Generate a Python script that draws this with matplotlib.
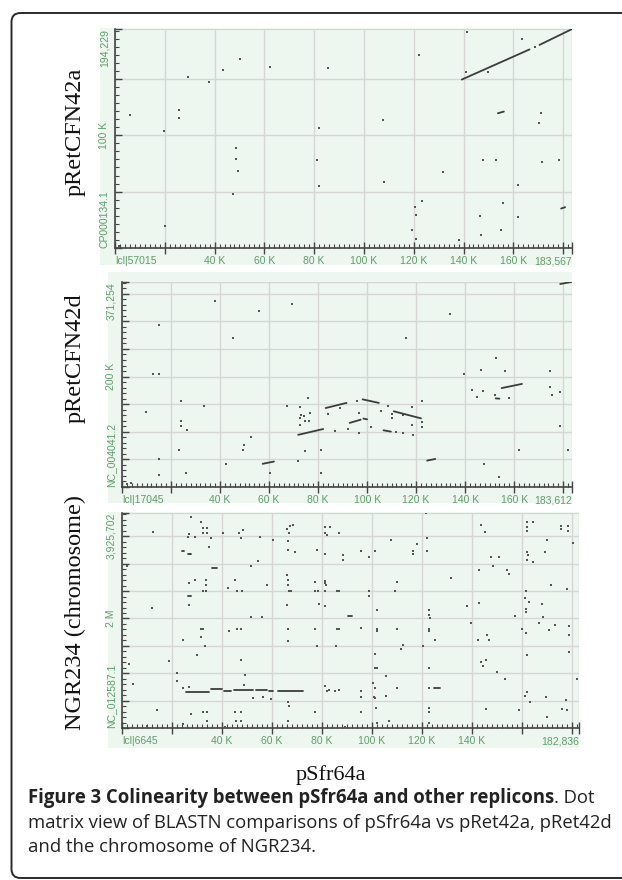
import matplotlib
matplotlib.use('Agg')
import numpy as np
import matplotlib.pyplot as plt
from matplotlib.patches import Rectangle, FancyBboxPatch
from matplotlib.ticker import MultipleLocator, AutoMinorLocator
from matplotlib.transforms import IdentityTransform

W, H = 622, 880

# ---- data (x in kb of pSfr64a, y in kb / Mb of the other replicon) ----
names = ['pRetCFN42a', 'pRetCFN42d', 'NGR234 (chromosome)']
x_len = [183.567, 183.612, 182.836]
y_len = [194.229, 371.254, 3.925702]
x_ids = ['lcl|57015', 'lcl|17045', 'lcl|6645']
y_ids = ['CP000134.1', 'NC_004041.2', 'NC_012587.1']
x_end_lbl = ['183,567', '183,612', '182,836']
y_end_lbl = ['194,229', '371,254', '3,925,702']
y_mid = [100, 200, 2]
y_mid_lbl = ['100 K', '200 K', '2 M']
y_grid = [50, 50, 0.5]
x_last_lbl = [160, 160, 140]

pts1 = [(6.2, 118), (19.7, 103.6), (20.0, 19.2), (25.6, 122.5), (25.6, 115.6), (29.2, 151.8),
        (37.9, 147.6), (43.5, 157.8), (47.5, 47.6), (48.7, 88.9), (48.7, 79.0), (49.4, 68.6),
        (50.2, 168), (62.2, 160.8), (81.1, 78.4), (81.9, 106.6), (82.0, 55.1), (85.6, 159.9),
        (107.5, 113.8), (108.1, 58.7), (122.0, 171), (119.2, 16.2), (120.5, 36.5), (120.8, 29.6),
        (121.0, 8.4), (123.3, 41.3), (131.6, 67.4), (138.3, 6.9), (140.8, 155.7), (141.4, 191.3),
        (146.7, 28.7), (147.1, 11.7), (147.8, 77.8), (149.8, 156), (153.0, 78.1), (155.1, 16.2),
        (155.7, 39.5), (162.0, 56), (162.0, 27.5), (163.3, 185.3), (170.2, 110.5), (171.3, 119.5),
        (171.6, 76.3), (178.4, 77.8), (1.5, 1.5), (168.9, 178.4)]
seg1 = [(139.3, 166.5, 149.4, 176.1), (170.5, 183.6, 180.1, 194.2),
        (153.8, 156.2, 119.5, 121.0), (179.2, 180.8, 35.0, 36.2)]

pts2 = [(15.1, 293.5), (12.7, 205.4), (15.1, 205.4), (9.9, 136.5), (24.2, 155.2), (24.2, 119.0),
        (24.2, 109.7), (26.6, 103.9), (33.6, 145.9), (37.8, 336.6), (45.1, 270.7), (52.6, 91.0),
        (49.7, 75.8), (49.2, 67.1), (42.4, 42.0), (23.4, 67.1), (26.0, 25.1), (15.0, 51.3),
        (15.3, 21.6), (55.9, 318.0), (69.4, 332.0), (60.2, 25.7), (67.3, 147.0), (71.9, 47.3),
        (72.7, 144.1), (73.2, 130.1), (74.3, 128.4), (72.7, 124.3), (74.5, 120.2), (76.8, 134.8),
        (76.5, 119.6), (72.7, 112.0), (75.7, 160.4), (74.7, 65.3), (81.4, 67.7), (81.1, 25.1),
        (84.2, 131.3), (87.0, 101.0), (89.1, 143.0), (92.1, 105.6), (95.7, 155.2), (96.9, 134.2),
        (101.5, 109.1), (105.6, 138.3), (108.6, 147.0), (110.2, 131.3), (110.2, 124.3),
        (114.6, 129.5), (116.0, 270.7), (118.4, 144.1), (118.4, 112.0), (122.5, 117.9),
        (122.5, 109.1), (122.5, 155.8), (134.0, 312.7), (139.6, 204.2), (142.9, 175.0),
        (144.7, 163.4), (146.5, 211.2), (147.2, 173.3), (147.9, 42.0), (152.5, 233.4),
        (152.1, 166.3), (153.8, 17.5), (156.4, 210.0), (157.9, 161.6), (161.8, 67.1),
        (174.7, 210.0), (174.7, 182.0), (175.5, 166.3), (178.8, 172.1), (178.8, 109.7),
        (182.1, 67.1), (2.1, 5.3), (3.6, 7.0), (96.7, 98.6), (112.0, 99.0), (114.5, 98.0),
        (118.8, 95.0)]
seg2 = [(178.8, 183.7, 367.6, 371.6), (71.9, 82.1, 94.5, 105.0), (83.1, 91.6, 143.0, 152.3),
        (98.2, 104.8, 158.7, 152.3), (92.9, 97.4, 116.1, 121.9), (110.9, 122.0, 137.1, 124.3),
        (106.7, 109.7, 102.7, 100.3), (57.4, 62.0, 42.0, 46.1), (124.5, 127.8, 47.8, 50.8),
        (154.9, 163.2, 179.1, 186.7), (152.5, 154.0, 160.5, 160.0), (98.5, 100.0, 124.0, 122.5)]

pts3 = [(27.5, 3.86), (31.5, 3.76), (32.6, 3.65), (33.9, 3.65), (26.7, 3.55), (26.4, 3.48),
        (29.1, 3.48), (32.6, 3.56), (33.9, 3.56), (35.5, 3.47), (12.3, 3.58), (40.3, 3.56),
        (46.7, 3.56), (48.3, 3.61), (47.5, 3.47), (55.2, 3.48), (60.3, 3.44), (65.9, 3.64),
        (66.7, 3.56), (68.3, 3.71), (67.2, 3.68), (81.1, 3.67), (81.1, 3.56), (81.9, 3.53),
        (83.2, 3.67), (87.0, 3.56), (107.8, 3.44), (121.6, 3.92), (143.5, 3.71), (145.1, 3.58),
        (161.9, 3.76), (164.3, 3.76), (161.9, 3.67), (161.9, 3.59), (175.5, 3.68), (178.4, 3.68),
        (175.5, 3.64), (178.4, 3.59), (169.9, 3.44),
        (27.2, 3.17), (35.0, 3.31), (51.5, 2.96), (54.4, 3.05), (66.4, 3.41), (66.4, 3.25),
        (69.4, 3.21), (77.9, 3.25), (81.1, 3.18), (88.6, 3.15), (88.3, 3.06), (95.5, 3.24),
        (98.7, 3.12), (101.4, 3.24), (116.3, 3.24), (116.3, 3.18), (117.9, 3.36), (122.2, 3.47),
        (122.2, 3.24), (147.5, 3.13), (150.7, 3.13), (148.3, 2.95), (161.9, 3.21), (162.4, 3.15),
        (161.9, 3.07), (164.3, 3.04), (169.1, 3.21), (180.3, 3.38), (1.9, 2.95),
        (26.7, 2.65), (29.1, 2.70), (33.6, 2.71), (33.6, 2.61), (33.6, 2.51), (32.3, 2.51),
        (26.7, 2.24), (42.4, 2.56), (45.4, 2.70), (45.9, 2.51), (48.0, 2.51), (58.2, 2.62),
        (66.2, 2.79), (66.4, 2.70), (66.4, 2.61), (66.7, 2.51), (67.8, 2.51), (77.1, 2.67),
        (77.1, 2.51), (78.4, 2.51), (81.1, 2.68), (81.3, 2.64), (81.6, 2.61), (81.3, 2.51),
        (85.9, 2.51), (87.0, 2.51), (79.0, 2.26), (81.1, 2.22), (98.7, 2.51), (98.7, 2.41),
        (109.9, 2.67), (109.1, 2.51), (131.5, 2.73), (143.0, 2.88), (154.2, 2.88), (154.7, 2.81),
        (161.6, 2.51), (161.1, 2.38), (162.7, 2.30), (142.7, 2.28), (138.2, 2.22), (171.5, 2.62),
        (178.2, 2.53), (168.0, 2.27), (161.6, 2.18), (161.6, 2.12), (168.6, 2.03), (157.1, 2.04),
        (12.0, 2.20), (66.2, 2.24),
        (51.5, 2.02), (56.0, 2.02), (101.9, 2.15), (122.7, 2.15), (122.7, 2.06), (123.2, 2.00),
        (160.0, 1.80), (161.6, 1.73), (167.0, 1.92), (170.7, 1.79), (173.1, 1.88), (178.7, 1.86),
        (178.7, 1.70), (31.8, 1.80), (32.6, 1.80), (31.5, 1.67), (33.3, 1.50), (24.3, 1.61),
        (29.9, 1.33), (45.9, 1.80), (47.5, 1.80), (42.7, 1.77), (66.4, 1.80), (66.4, 1.59),
        (77.1, 1.80), (77.9, 1.50), (85.9, 1.80), (87.0, 1.80), (85.6, 1.50), (95.5, 1.82),
        (101.9, 1.80), (102.2, 1.77), (109.9, 1.80), (122.7, 1.80), (122.7, 1.77), (125.4, 1.61),
        (120.6, 1.50), (111.5, 1.45), (112.3, 1.52), (139.5, 1.91), (142.4, 1.61), (146.2, 1.70),
        (147.0, 1.61), (161.9, 1.33), (178.7, 1.38),
        (18.7, 1.23), (47.5, 1.25), (49.1, 0.97), (22.2, 1.00), (22.2, 0.86), (2.7, 1.17),
        (4.5, 0.80), (101.4, 1.35), (101.1, 1.10), (101.9, 1.09), (105.6, 0.95), (100.3, 0.83),
        (122.7, 1.10), (122.7, 0.73), (143.5, 1.21), (144.6, 1.14), (145.6, 1.25), (149.9, 1.03),
        (153.1, 0.89), (161.9, 0.65), (161.1, 0.59), (163.2, 0.48), (181.9, 0.89), (169.6, 0.56),
        (177.6, 0.52), (81.1, 0.76), (81.9, 0.67), (82.7, 0.70), (85.1, 0.68), (87.0, 0.70),
        (101.4, 0.73), (100.8, 0.56), (101.4, 0.55), (105.6, 0.58), (109.9, 0.73), (95.5, 0.56),
        (95.5, 0.67), (66.4, 0.48), (67.0, 0.41), (52.3, 0.55), (56.6, 0.56), (59.5, 0.53),
        (48.8, 0.79), (24.3, 0.73), (26.7, 0.75),
        (13.9, 0.32), (27.5, 0.26), (32.3, 0.29), (33.9, 0.29), (45.4, 0.29), (47.5, 0.29),
        (45.6, 0.12), (47.8, 0.12), (33.9, 0.12), (24.3, 0.07), (9.9, 0.03), (41.1, 0.02),
        (66.4, 0.12), (77.1, 0.29), (89.1, 0.01), (95.5, 0.29), (101.6, 0.36), (101.9, 0.09),
        (106.7, 0.12), (122.7, 0.36), (123.0, 0.30), (122.7, 0.09), (145.6, 0.35), (158.7, 0.32),
        (169.9, 0.20), (176.0, 0.35), (178.2, 0.33)]
seg3 = [(25.5, 35.0, 0.665, 0.665), (35.5, 40.0, 0.705, 0.705), (41.0, 43.5, 0.68, 0.68),
        (45.0, 52.5, 0.695, 0.695), (53.5, 58.0, 0.695, 0.695), (59.0, 60.5, 0.68, 0.68),
        (62.5, 72.5, 0.68, 0.68), (90.6, 92.2, 2.04, 2.04), (36.0, 38.2, 2.93, 2.93),
        (124.8, 127.2, 0.73, 0.73), (26.3, 27.6, 2.41, 2.41), (24.0, 24.8, 3.24, 3.24),
        (26.5, 27.6, 3.18, 3.18)]

points = [pts1, pts2, pts3]
segments = [seg1, seg2, seg3]

caption_bold = 'Figure 3 Colinearity between pSfr64a and other replicons'
caption_rest = '. Dot'
caption_lines = ['matrix view of BLASTN comparisons of pSfr64a vs pRet42a, pRet42d',
                 'and the chromosome of NGR234.']

# ---- layout in pixels (left, top, right, bottom) ----
axes_px = [(115, 29, 572, 248), (122, 282, 572, 487), (122, 513, 579, 728)]
bg_px = [(100, 28, 572, 265), (108, 272, 572, 503), (108, 512, 579, 748)]
name_y = [132, 358, 613]

GREEN = '#eef6f0'
TXT_GREEN = '#5f9d6a'
DOT = '#555555'

plt.rcParams['font.family'] = 'Liberation Sans'

fig = plt.figure(figsize=(W / 100, H / 100), dpi=100)

# rounded frame
fig.patches.append(FancyBboxPatch((11.5, 2), 700, 865, boxstyle='round,pad=0,rounding_size=9',
                                  transform=IdentityTransform(), facecolor='none',
                                  edgecolor='#2a2a2a', lw=1.4, zorder=-2))

for i in range(3):
    l, t, r, b = bg_px[i]
    fig.patches.append(Rectangle((l / W, 1 - b / H), (r - l) / W, (b - t) / H,
                                 transform=fig.transFigure, facecolor=GREEN,
                                 edgecolor='none', zorder=-1))
    l, t, r, b = axes_px[i]
    ax = fig.add_axes([l / W, 1 - b / H, (r - l) / W, (b - t) / H])
    ax.set_facecolor('none')
    ax.set_xlim(0, x_len[i])
    ax.set_ylim(0, y_len[i])

    xs = [p[0] for p in points[i]]
    ys = [p[1] for p in points[i]]
    ax.scatter(xs, ys, s=2, marker='s', color=DOT, lw=0, zorder=3)
    for x0, x1, y0, y1 in segments[i]:
        ax.plot([x0, x1], [y0, y1], color='#3c3c3c', lw=1.3, solid_capstyle='round', zorder=3)

    # x ticks
    xt = [0] + list(range(20, 181, 20)) + [x_len[i]]
    xl = [x_ids[i]] + ['%d K' % v if 40 <= v <= x_last_lbl[i] else '' for v in range(20, 181, 20)] \
        + [x_end_lbl[i]]
    ax.set_xticks(xt, xl)
    labs = ax.get_xticklabels()
    labs[0].set_ha('left')
    labs[-1].set_ha('right')
    ax.xaxis.set_minor_locator(MultipleLocator(2))

    # y ticks
    yt = list(np.arange(0, y_len[i], y_grid[i])) + [y_len[i]]
    yl = [y_ids[i]] + [y_mid_lbl[i] if abs(v - y_mid[i]) < 1e-9 else '' for v in yt[1:-1]] \
        + [y_end_lbl[i]]
    ax.set_yticks(yt, yl)
    for k, lab in enumerate(ax.get_yticklabels()):
        lab.set_rotation(90)
        lab.set_va('bottom' if k == 0 else ('top' if k == len(yt) - 1 else 'center'))
    ax.yaxis.set_minor_locator(AutoMinorLocator(7 if i == 0 else 5))

    ax.grid(True, which='major', color='#d6d6d6', lw=1.0, zorder=0)
    ax.set_axisbelow(True)
    for s in ['top', 'right']:
        ax.spines[s].set_visible(False)
    for s in ['left', 'bottom']:
        ax.spines[s].set_color('#444444')
        ax.spines[s].set_linewidth(1.2)
    ax.tick_params(axis='x', which='major', direction='inout', length=8, width=1,
                   color='#444444', labelsize=7.5, labelcolor=TXT_GREEN, pad=2)
    ax.tick_params(axis='x', which='minor', direction='in', length=3, width=0.8, color='#444444')
    ax.tick_params(axis='y', which='major', direction='in', length=5, width=1,
                   color='#444444', labelsize=7.5, labelcolor=TXT_GREEN, pad=4)
    ax.tick_params(axis='y', which='minor', direction='in', length=3, width=0.8, color='#444444')

    fig.text(75 / W, 1 - name_y[i] / H, names[i], rotation=90, ha='center', va='center',
             family='Liberation Serif', fontsize=17.5, color='#111111')

fig.text(331 / W, 1 - 780 / H, 'pSfr64a', ha='center', va='baseline',
         family='Liberation Serif', fontsize=16, color='#111111')

# caption
r = fig.canvas.get_renderer()
cap_x = 28
base = [803, 828, 852]
t2 = fig.text(cap_x / W, 1 - base[1] / H, caption_lines[0], ha='left', va='baseline',
              family='Open Sans', fontsize=12, color='#222222')
w2 = t2.get_window_extent(r).width
fs = 12 * 584 / w2
t2.set_fontsize(fs)
fig.text(cap_x / W, 1 - base[2] / H, caption_lines[1], ha='left', va='baseline',
         family='Open Sans', fontsize=fs, color='#222222')
tb = fig.text(cap_x / W, 1 - base[0] / H, caption_bold, ha='left', va='baseline',
              family='Open Sans', fontweight='bold', fontsize=fs, color='#222222')
wb = tb.get_window_extent(r).width
fig.text((cap_x + wb) / W, 1 - base[0] / H, caption_rest, ha='left', va='baseline',
         family='Open Sans', fontsize=fs, color='#222222')

fig.savefig('out.png', dpi=100)
